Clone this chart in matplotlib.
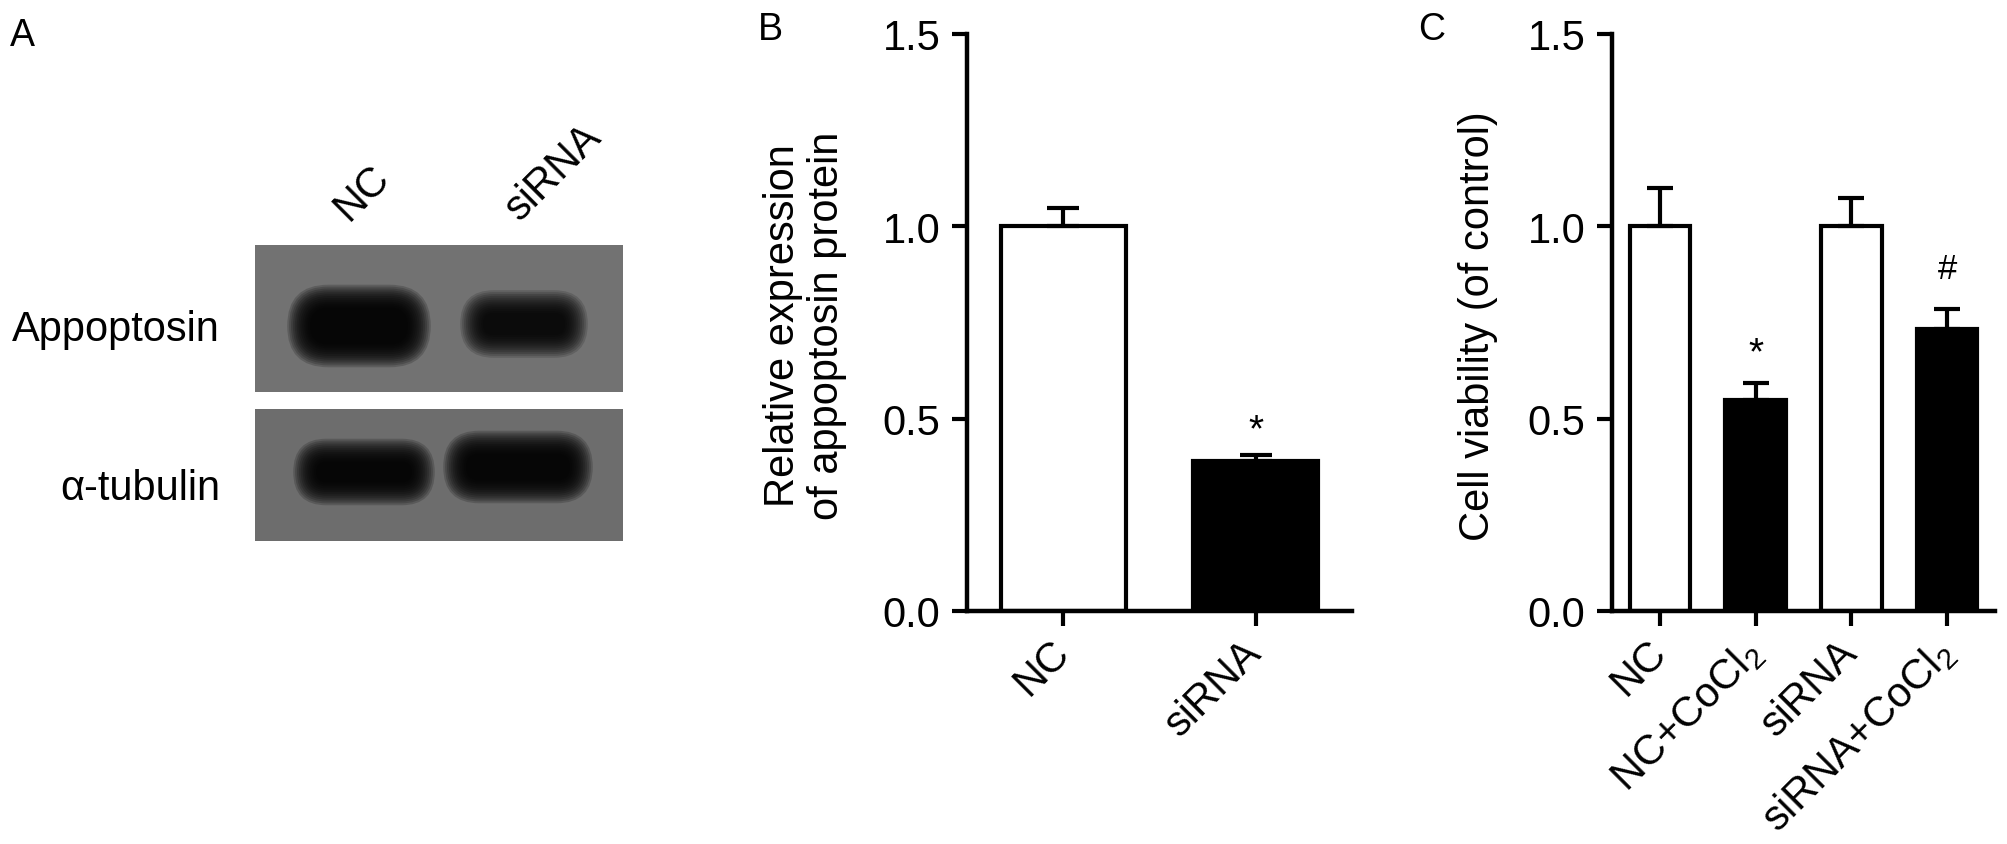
import matplotlib
matplotlib.use("Agg")
import matplotlib.pyplot as plt
from matplotlib.patches import Rectangle, FancyBboxPatch

plt.rcParams['font.family'] = ['Liberation Sans', 'DejaVu Sans']
plt.rcParams['mathtext.fontset'] = 'custom'
plt.rcParams['mathtext.rm'] = 'Liberation Sans'

W, H = 2008, 845

# ---- data ----
blot_lanes = ['NC', 'siRNA']
blot_rows = ['Appoptosin', '\u03b1-tubulin']
# band geometry inside the blot (px): centre x, centre y, width, height, darkness
band_cx = [104, 269, 109, 263]
band_cy = [81, 79, 227, 222]
band_w = [134, 118, 132, 140]
band_h = [65, 50, 49, 55]
band_alpha = [0.18, 0.15, 0.18, 0.18]

b_groups = ['NC', 'siRNA']
b_means = [1.0, 0.39]
b_err = [0.048, 0.015]
b_colors = ['white', 'black']

c_groups = ['NC', 'NC+CoCl$_\\mathrm{2}$', 'siRNA', 'siRNA+CoCl$_\\mathrm{2}$']
c_means = [1.0, 0.548, 1.0, 0.734]
c_err = [0.10, 0.045, 0.073, 0.052]
c_colors = ['white', 'black', 'white', 'black']

fig = plt.figure(figsize=(W / 100, H / 100), dpi=100)


def px(x, y):
    return x / W, 1 - y / H


# ---- panel A: blot ----
axA = fig.add_axes([255 / W, 1 - 542 / H, 368 / W, 296 / H])
axA.set_xlim(0, 368)
axA.set_ylim(296, 0)
axA.axis('off')
axA.add_patch(Rectangle((0, 0), 368, 147, color='#727272', lw=0))
axA.add_patch(Rectangle((0, 164), 368, 132, color='#6d6d6d', lw=0))
for cx, cy, w, h, a in zip(band_cx, band_cy, band_w, band_h, band_alpha):
    core_w, core_h = w - 36, h - 28
    for i in range(13):
        g = (12 - i) * 1.9
        ww, hh = core_w + 2 * g, core_h + 2 * g
        axA.add_patch(FancyBboxPatch((cx - ww / 2, cy - hh / 2), ww, hh,
                                     boxstyle="round,pad=0,rounding_size=%f" % (hh * 0.5),
                                     fc='black', ec='none', alpha=a))

fs = 30
fig.text(*px(220, 341), blot_rows[0], ha='right', va='baseline', fontsize=fs)
fig.text(*px(220, 500), blot_rows[1], ha='right', va='baseline', fontsize=fs)
fig.text(*px(362, 193), blot_lanes[0], rotation=45, ha='center', va='center', fontsize=fs)
fig.text(*px(554, 173), blot_lanes[1], rotation=45, ha='center', va='center', fontsize=fs)

fig.text(*px(10, 18), 'A', ha='left', va='top', fontsize=27)
fig.text(*px(758, 12), 'B', ha='left', va='top', fontsize=27)
fig.text(*px(1418, 12), 'C', ha='left', va='top', fontsize=27)


def bar_panel(ax, groups, means, errs, colors, width, cap):
    x = list(range(len(groups)))
    ax.bar(x, means, width=width, color=colors, edgecolor='black', linewidth=3, zorder=2)
    ax.errorbar(x, means, yerr=[[0] * len(errs), errs], fmt='none', ecolor='black',
                elinewidth=3, capsize=cap, capthick=3, zorder=3)
    ax.set_xlim(-0.5, len(groups) - 0.5)
    ax.set_ylim(0, 1.5)
    ax.set_yticks([0, 0.5, 1.0, 1.5])
    ax.set_yticklabels(['0.0', '0.5', '1.0', '1.5'])
    ax.set_xticks(x)
    ax.set_xticklabels(groups, rotation=45, ha='right', va='center', rotation_mode='anchor')
    for s in ['top', 'right']:
        ax.spines[s].set_visible(False)
    for s in ['left', 'bottom']:
        ax.spines[s].set_linewidth(3.2)
    ax.tick_params(axis='both', direction='out', length=11, width=3, labelsize=fs)
    ax.tick_params(axis='y', pad=8)
    ax.tick_params(axis='x', pad=14)


axB = fig.add_axes([967 / W, 1 - 612 / H, 385 / W, 577 / H])
bar_panel(axB, b_groups, b_means, b_err, b_colors, 0.65, 11.5)
axB.text(1, 0.47, '*', ha='center', va='center', fontsize=28)

axC = fig.add_axes([1612 / W, 1 - 612 / H, 383 / W, 577 / H])
bar_panel(axC, c_groups, c_means, c_err, c_colors, 0.63, 9.4)
axC.text(1, 0.67, '*', ha='center', va='center', fontsize=28)
axC.text(3, 0.89, '#', ha='center', va='center', fontsize=25)

fig.text(*px(805, 326), 'Relative expression\nof appoptosin protein', rotation=90,
         ha='center', va='center', multialignment='center', fontsize=fs, linespacing=1.15)
fig.text(*px(1478, 326), 'Cell viability (of control)', rotation=90,
         ha='center', va='center', fontsize=fs)

fig.savefig('out.png', dpi=100)
